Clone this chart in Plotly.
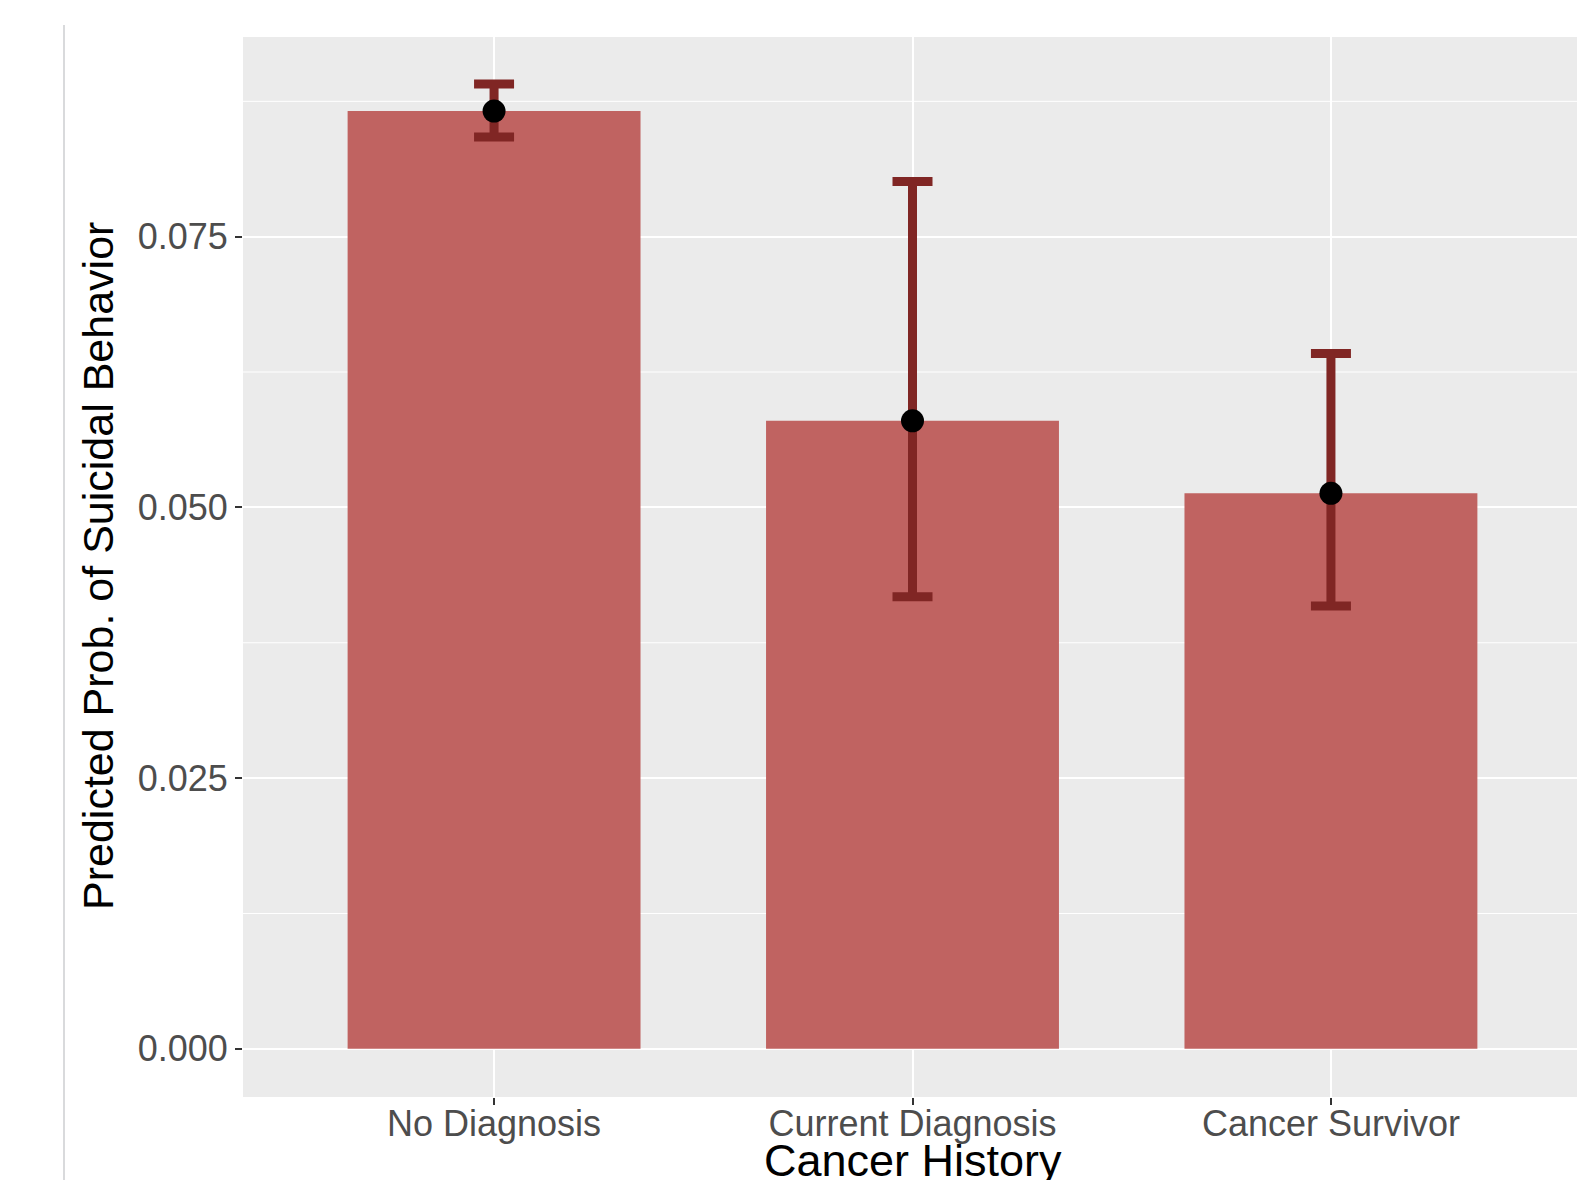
import plotly.graph_objects as go

categories = ["No Diagnosis", "Current Diagnosis", "Cancer Survivor"]
pred_prob = [0.0866, 0.0580, 0.0513]
ci_upper = [0.0891, 0.0801, 0.0642]
ci_lower = [0.0842, 0.04175, 0.0409]
y_ticks = [0.000, 0.025, 0.050, 0.075]
y_tick_labels = ["0.000", "0.025", "0.050", "0.075"]
minor_ticks = [0.0125, 0.0375, 0.0625, 0.0875]

# page body has an 8px default margin; compensate
OFF = 8
W, H = 1585 - OFF, 1180 - OFF
L, R, T, B = 243 - OFF, 3, 37 - OFF, 83
PW, PH = W - L - R, H - T - B
FONT = "Liberation Sans, Arial, Helvetica, sans-serif"

xpos = list(range(len(categories)))
err_plus = [u - p for u, p in zip(ci_upper, pred_prob)]
err_minus = [p - l for p, l in zip(pred_prob, ci_lower)]

fig = go.Figure()
fig.add_trace(go.Bar(
    x=xpos, y=pred_prob, width=0.7,
    marker=dict(color="#C06361", line=dict(width=0)),
    showlegend=False, hoverinfo="skip",
))
fig.add_trace(go.Scatter(
    x=xpos, y=pred_prob, mode="markers",
    marker=dict(size=1, color="rgba(0,0,0,0)"),
    error_y=dict(type="data", symmetric=False, array=err_plus, arrayminus=err_minus,
                 color="#802624", thickness=9, width=20),
    showlegend=False, hoverinfo="skip",
))
fig.add_trace(go.Scatter(
    x=xpos, y=pred_prob, mode="markers",
    marker=dict(size=23, color="black", line=dict(width=0)),
    showlegend=False, hoverinfo="skip",
))

# minor gridlines
for m in minor_ticks:
    fig.add_shape(type="line", xref="x domain", yref="y", x0=0, x1=1, y0=m, y1=m,
                  line=dict(color="white", width=1), layer="below")

# left decorative line
lx = (64 - OFF - L) / PW
fig.add_shape(type="line", xref="paper", yref="paper",
              x0=lx, x1=lx, y0=(H - B - (25 - OFF)) / PH, y1=-B / PH,
              line=dict(color="#D9DADC", width=2))

fig.update_layout(
    width=W, height=H,
    margin=dict(l=L, r=R, t=T, b=B, pad=0),
    paper_bgcolor="white", plot_bgcolor="#EBEBEB",
    font=dict(family=FONT),
    xaxis=dict(
        range=[-0.6, 2.6], tickmode="array", tickvals=xpos, ticktext=categories,
        showgrid=True, gridcolor="white", gridwidth=2, zeroline=False,
        ticks="outside", ticklen=7, tickwidth=2, tickcolor="#333333",
        tickfont=dict(size=36, color="#4D4D4D", family=FONT),
        ticklabelstandoff=-12,
        showline=False, fixedrange=True,
    ),
    yaxis=dict(
        range=[-0.00445, 0.09344], tickmode="array", tickvals=y_ticks, ticktext=y_tick_labels,
        showgrid=True, gridcolor="white", gridwidth=2, zeroline=False,
        ticks="outside", ticklen=7, tickwidth=2, tickcolor="#333333",
        tickfont=dict(size=36, color="#4D4D4D", family=FONT),
        showline=False, fixedrange=True,
    ),
    annotations=[
        dict(text="Cancer History", xref="paper", yref="paper", x=0.5,
             y=-(1160 - OFF - (H - B)) / PH,
             xanchor="center", yanchor="middle", showarrow=False,
             font=dict(size=45, color="black", family=FONT)),
        dict(text="Predicted Prob. of Suicidal Behavior", xref="paper", yref="paper",
             x=(98 - OFF - L) / PW, y=(H - B - (566 - OFF)) / PH, textangle=-90,
             xanchor="center", yanchor="middle", showarrow=False,
             font=dict(size=43, color="black", family=FONT)),
    ],
)

fig.write_html("out.html")
